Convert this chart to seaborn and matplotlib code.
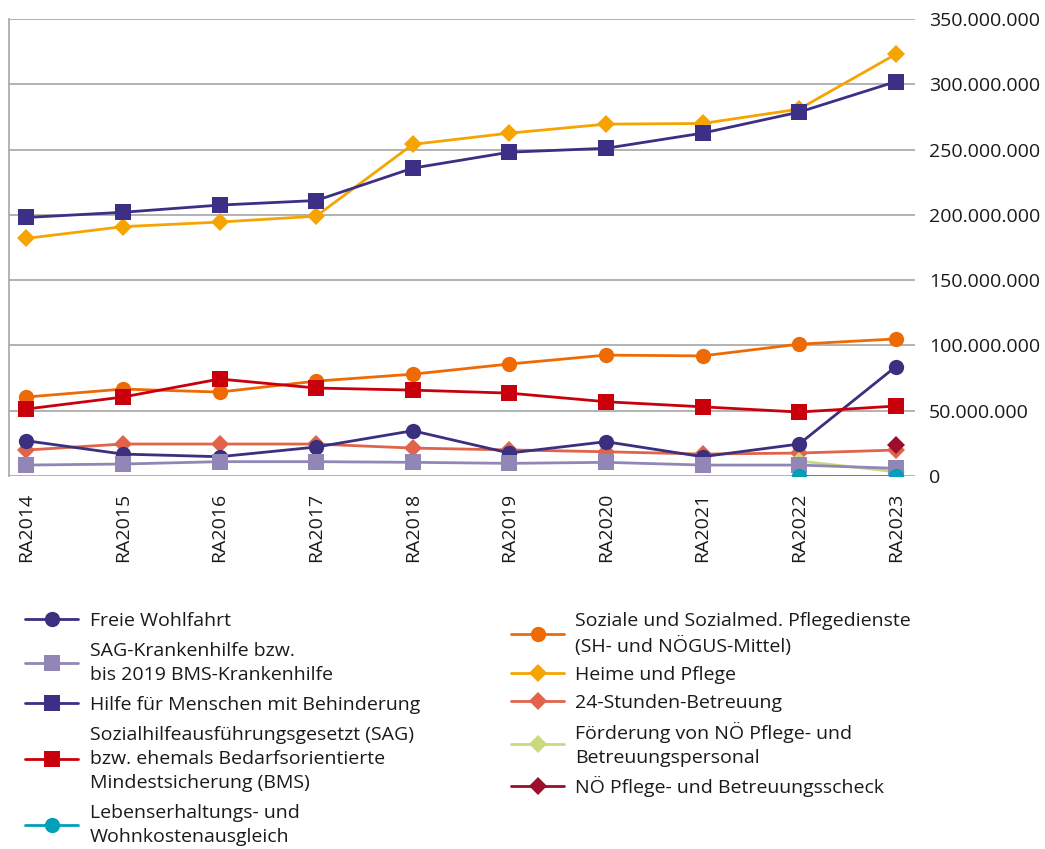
import numpy as np
import pandas as pd
import matplotlib.pyplot as plt
from matplotlib.ticker import FuncFormatter
import seaborn as sns

sns.set_style('white')
plt.rcParams['font.family'] = ['Open Sans', 'DejaVu Sans']

# Data (values in Mio. EUR)
years = ['RA2014', 'RA2015', 'RA2016', 'RA2017', 'RA2018',
         'RA2019', 'RA2020', 'RA2021', 'RA2022', 'RA2023']
nan = np.nan

freie_wohlfahrt = [27.0, 16.8, 14.8, 22.2, 34.7, 17.6, 26.3, 14.8, 24.5, 83.7]
sag_krankenhilfe = [8.4, 9.2, 11.0, 11.0, 10.5, 9.7, 10.5, 8.4, 8.4, 5.9]
hilfe_behinderung = [198.0, 202.0, 207.5, 211.0, 235.8, 248.0, 251.0, 262.6, 278.7, 302.0]
sag_bms = [51.3, 60.5, 74.3, 67.4, 65.8, 63.5, 56.9, 53.0, 49.0, 53.6]
lebenserhaltung = [nan, nan, nan, nan, nan, nan, nan, nan, 0.0, 0.0]
pflegedienste = [60.5, 66.6, 64.3, 72.7, 78.0, 85.8, 92.6, 92.0, 101.0, 105.0]
heime_pflege = [182.0, 191.0, 194.5, 199.0, 254.0, 262.6, 269.5, 270.0, 281.0, 323.0]
betreuung_24h = [19.9, 24.5, 24.5, 24.5, 21.4, 20.0, 18.6, 16.8, 17.6, 19.9]
foerderung_personal = [nan, nan, nan, nan, nan, nan, nan, nan, 11.5, 3.3]
pflegescheck = [nan, nan, nan, nan, nan, nan, nan, nan, nan, 23.7]

labels = [
    'Freie Wohlfahrt',
    'SAG-Krankenhilfe bzw.\nbis 2019 BMS-Krankenhilfe',
    'Hilfe für Menschen mit Behinderung',
    'Sozialhilfeausführungsgesetzt (SAG)\nbzw. ehemals Bedarfsorientierte\nMindestsicherung (BMS)',
    'Lebenserhaltungs- und\nWohnkostenausgleich',
    'Soziale und Sozialmed. Pflegedienste\n(SH- und NÖGUS-Mittel)',
    'Heime und Pflege',
    '24-Stunden-Betreuung',
    'Förderung von NÖ Pflege- und\nBetreuungspersonal',
    'NÖ Pflege- und Betreuungsscheck',
]
series = [freie_wohlfahrt, sag_krankenhilfe, hilfe_behinderung, sag_bms,
          lebenserhaltung, pflegedienste, heime_pflege, betreuung_24h,
          foerderung_personal, pflegescheck]
colors = ['#3b2f7f', '#9186b6', '#3b2f86', '#c9000b', '#00a0b8',
          '#ee6a04', '#f5a402', '#e0634a', '#c9da7c', '#9b0e2c']
markers = ['o', 's', 's', 's', 'o', 'o', 'D', 'D', 'D', 'D']
msizes = [11, 11, 11, 11, 11, 11, 9, 9, 9, 9]

fig = plt.figure(figsize=(10.45, 8.49), dpi=100)
ax = fig.add_axes([0.0086, 0.4393, 0.8670, 0.5383])

x_pos = np.arange(len(years))
# right-column series first, left column on top
order = [5, 6, 7, 8, 9, 0, 1, 2, 3, 4]
for i in order:
    df = pd.DataFrame({'x': x_pos, 'y': np.array(series[i]) * 1e6})
    sns.lineplot(data=df, x='x', y='y', ax=ax, color=colors[i], marker=markers[i],
                 markersize=msizes[i], markeredgewidth=0, linewidth=2.0,
                 label=labels[i], zorder=3)

ax.set_xlim(-0.18, 9.2)
ax.set_ylim(0, 350e6)
ax.set_yticks(np.arange(0, 351e6, 50e6))
ax.yaxis.set_major_formatter(FuncFormatter(lambda v, p: f'{v:,.0f}'.replace(',', '.')))
ax.yaxis.tick_right()
ax.set_xticks(x_pos)
ax.set_xticklabels(years, rotation=90, va='top', ha='center')
ax.tick_params(axis='both', length=0, labelsize=14, colors='#1a1a1a')
ax.tick_params(axis='x', pad=12)
ax.tick_params(axis='y', pad=10)
ax.set_xlabel('')
ax.set_ylabel('')
ax.grid(axis='y', color='#a6a6a6', linewidth=1.2)
ax.set_axisbelow(True)
for side in ['top', 'right', 'bottom']:
    ax.spines[side].set_visible(False)
ax.spines['left'].set_color('#a6a6a6')
ax.spines['left'].set_linewidth(1.2)

handles, labs = ax.get_legend_handles_labels()
lookup = dict(zip(labs, handles))
ax.get_legend().remove()

left_labels = labels[:5]
right_labels = labels[5:]
leg_kw = dict(frameon=False, fontsize=14, handlelength=2.7, handletextpad=0.6,
              borderpad=0, loc='upper left')
leg1 = fig.legend([lookup[l] for l in left_labels], left_labels, labelspacing=0.63,
                  bbox_to_anchor=(0.015, 0.291), **leg_kw)
leg2 = fig.legend([lookup[l] for l in right_labels], right_labels, labelspacing=0.5,
                  bbox_to_anchor=(0.48, 0.291), **leg_kw)
for leg in (leg1, leg2):
    for t in leg.get_texts():
        t.set_linespacing(1.42)
        t.set_color('#1a1a1a')

fig.savefig('out.png', dpi=100)
